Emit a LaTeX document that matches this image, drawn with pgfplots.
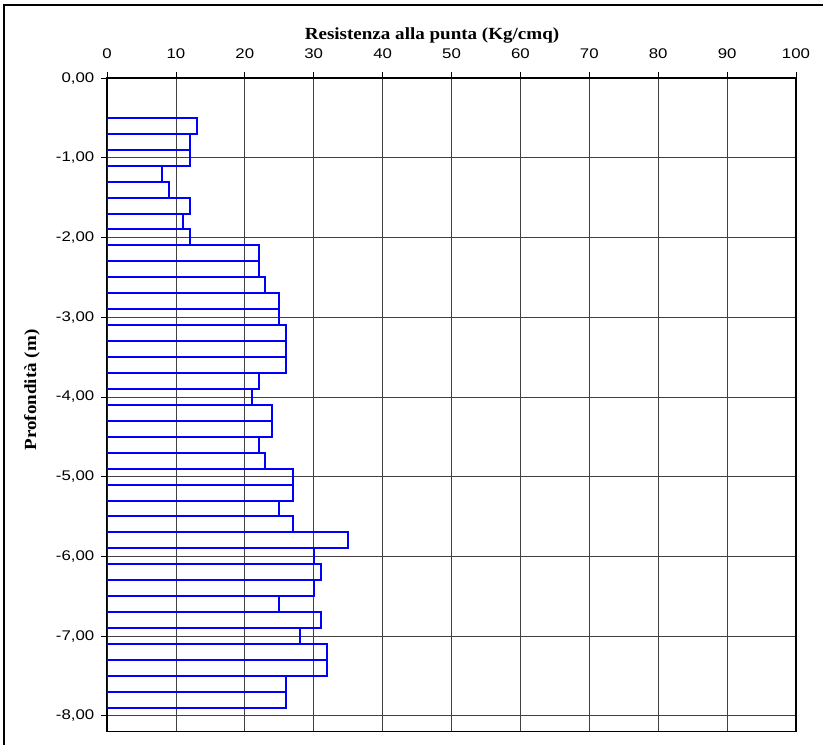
\documentclass[border=0pt]{standalone}
\usepackage{pgfplots}
\pgfplotsset{compat=1.18}
\usepackage{fontspec}
\setmainfont{Liberation Sans}
\newfontfamily\tickfont[FakeStretch=1.2]{Liberation Sans}
\newfontfamily\titlefont[FakeStretch=1.12]{Liberation Serif}
\begin{document}
\begin{tikzpicture}
\useasboundingbox (0,0) rectangle (617.25pt,-558pt);
\draw[line width=1pt] (3pt,-560pt) -- (3pt,-3.75pt) -- (620pt,-3.75pt);
\begin{axis}[
  at={(80.25pt,-58.5pt)}, anchor=north west,
  scale only axis, width=516.75pt, height=490.3pt,
  xmin=0, xmax=100, ymin=-8.2, ymax=0,
  xtick={0,10,...,100}, ytick={0,-1,...,-8},
  xtick pos=upper, ytick pos=left,
  xticklabel pos=upper,
  tick align=outside, major tick length=4.5pt,
  tick style={black, line width=0.6pt},
  grid=major,
  grid style={black!75, line width=0.6pt},
  axis line style={black, line width=0.9pt},
  /pgf/number format/assume math mode=true,
  ticklabel style={font=\tickfont\fontsize{10.5pt}{12pt}\selectfont},
  yticklabel style={xshift=-1.5pt, /pgf/number format/.cd, fixed, fixed zerofill, precision=2, use comma},
  xticklabel style={yshift=6.5pt, /pgf/number format/fixed},
  xbar, bar shift=0pt, bar width=0.2,
]
\addplot[draw={rgb,255:red,0;green,0;blue,255}, fill=none, line width=1.5pt] coordinates {
(13,-0.6) (12,-0.8) (12,-1.0) (8,-1.2) (9,-1.4) (12,-1.6) (11,-1.8) (12,-2.0)
(22,-2.2) (22,-2.4) (23,-2.6) (25,-2.8) (25,-3.0) (26,-3.2) (26,-3.4) (26,-3.6)
(22,-3.8) (21,-4.0) (24,-4.2) (24,-4.4) (22,-4.6) (23,-4.8) (27,-5.0) (27,-5.2)
(25,-5.4) (27,-5.6) (35,-5.8) (30,-6.0) (31,-6.2) (30,-6.4) (25,-6.6) (31,-6.8)
(28,-7.0) (32,-7.2) (32,-7.4) (26,-7.6) (26,-7.8)
};
\end{axis}
\node[anchor=base, inner sep=0pt, font=\titlefont\bfseries\fontsize{12.75pt}{14pt}\selectfont] at (324pt,-29.25pt) {Resistenza alla punta (Kg/cmq)};
\node[anchor=base, rotate=90, inner sep=0pt, font=\titlefont\bfseries\fontsize{12.75pt}{14pt}\selectfont] at (27pt,-292.5pt) {Profondità (m)};
\end{tikzpicture}
\end{document}
